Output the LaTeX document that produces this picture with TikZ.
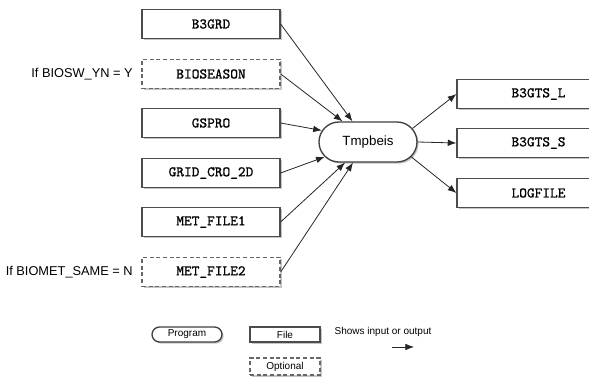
\documentclass[tikz,border=0pt]{standalone}
\usepackage{fontspec}
\setmainfont{Liberation Sans}
\setmonofont[AutoFakeBold=1]{Latin Modern Mono}
\usetikzlibrary{shapes.misc,shadows,arrows.meta}

\begin{document}
\begin{tikzpicture}[x=0.75pt, y=-0.75pt, every node/.style={font=\fontsize{9.6}{11}\selectfont}]
            \tikzstyle{filebox}=[draw=black!70, line width=0.9pt, fill=white, minimum width=103.5pt, minimum height=21.75pt, inner sep=0pt, font=\ttfamily\fontsize{11}{12}\selectfont\bfseries, drop shadow={shadow xshift=1.2pt, shadow yshift=-1.2pt, fill=black!45}]
            \tikzstyle{optbox}=[filebox, draw=black!60, dash pattern=on 3pt off 2pt, line width=1pt]
            \tikzstyle{prog}=[rounded rectangle, draw=black!75, line width=1pt, fill=white, minimum width=73.5pt, minimum height=30pt, inner sep=0pt, font=\fontsize{10}{12}\selectfont, drop shadow={shadow xshift=1.2pt, shadow yshift=-1.2pt, fill=black!45}]
            \tikzstyle{flow}=[-{Latex[length=6.5pt,width=5pt]}, draw=black!85, line width=0.6pt]
            \tikzstyle{key}=[font=\fontsize{7.5}{9}\selectfont]
            \clip (0,0) rectangle (589,377);
            % inputs
            \node[filebox] (b3grd) at (211,24) {B3GRD};
            \node[optbox] (bioseason) at (211,74) {BIOSEASON};
            \node[filebox] (gspro) at (211,123) {GSPRO};
            \node[filebox] (gridcro) at (211,173) {GRID\_CRO\_2D};
            \node[filebox] (metone) at (211,222) {MET\_FILE1};
            \node[optbox] (mettwo) at (211,272) {MET\_FILE2};
            \node[anchor=east, inner sep=0pt] (ifbiosw) at (133,74) {If BIOSW\_YN = Y};
            \node[anchor=east, inner sep=0pt] (ifbiomet) at (133,272) {If BIOMET\_SAME = N};
            % program
            \node[prog] (tmp) at (368,142) {Tmpbeis};
            % outputs
            \node[filebox, minimum width=122.25pt] (gtsl) at (538.5,94) {B3GTS\_L};
            \node[filebox, minimum width=122.25pt] (gtss) at (538.5,143) {B3GTS\_S};
            \node[filebox, minimum width=122.25pt] (logfile) at (538.5,193) {LOGFILE};
            \draw[flow] (b3grd.east) -- (tmp.127);
            \draw[flow] (bioseason.east) -- (tmp.141);
            \draw[flow] (gspro.east) -- (tmp.166);
            \draw[flow] (gridcro.east) -- (tmp.199);
            \draw[flow] (metone.east) -- (tmp.222);
            \draw[flow] (mettwo.east) -- (tmp.234);
            \draw[flow] (tmp.17) -- (gtsl.west);
            \draw[flow] (tmp.east) -- (gtss.west);
            \draw[flow] (tmp.341) -- (logfile.west);
            % legend
            \node[prog, key, minimum width=52.5pt, minimum height=11.25pt] (keyprog) at (187,334.5) {Program};
            \node[filebox, key, minimum width=52.5pt, minimum height=11.25pt] (keyfile) at (285,334.5) {File};
            \node[optbox, key, minimum width=52.5pt, minimum height=12.75pt] (keyopt) at (285,366.5) {Optional};
            \node[key, inner sep=0pt] (keytext) at (383,332) {Shows input or output};
            \coordinate (keya) at (392,347);
            \coordinate (keyb) at (414,347);
            \draw[flow] (keya) -- (keyb);
        \end{tikzpicture}
\end{document}
